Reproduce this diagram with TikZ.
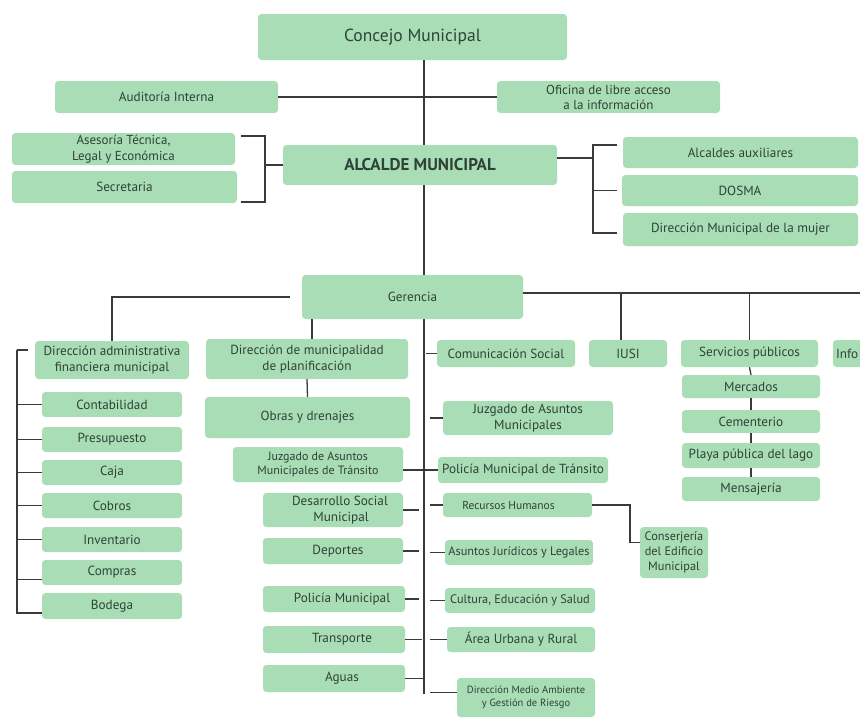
\documentclass[tikz,border=0pt]{standalone}
\usepackage{fontspec}
\setmainfont{PT Sans}
\definecolor{boxg}{HTML}{A8DDB6}
\definecolor{txtc}{HTML}{2F4236}
\definecolor{lnc}{HTML}{3A3A3A}
\newcommand\obox[7][]{\node[box,minimum width={#5pt-#3pt},minimum height={#6pt-#4pt},#1] (#2) at ({(#3+#5)/2},{(#4+#6)/2}) {#7};}
\begin{document}
\begin{tikzpicture}[x=1pt,y=-1pt,
  box/.style={fill=boxg, rounded corners=3.5pt, inner sep=0pt, align=center, text=txtc, font=\fontsize{13.2}{15.5}\selectfont},
  ln/.style={draw=lnc, line width=1.3pt}]
\useasboundingbox (0,0) rectangle (860,720);
% ---------- boxes ----------
\obox[font=\fontsize{17.5}{20}\selectfont]{concejo}{258}{14}{567}{60}{Concejo Municipal}
\obox{audit}{55}{81}{278}{113}{Auditoría Interna}
\obox[font=\fontsize{13}{15}\selectfont]{ofic}{497}{81}{720}{113}{Oficina de libre acceso\\a la información}
\obox[font=\fontsize{13}{16}\selectfont]{ases}{12}{133}{235}{165}{Asesoría Técnica,\\Legal y Económica}
\obox{secr}{12}{171}{237}{203}{Secretaria}
\obox[font=\bfseries\fontsize{17}{19}\selectfont]{alc}{283}{145}{557}{185}{ALCALDE MUNICIPAL}
\obox{alcaux}{623}{137}{858}{168}{Alcaldes auxiliares}
\obox{dosma}{622}{175}{858}{206}{DOSMA}
\obox{mujer}{623}{213}{858}{246}{Dirección Municipal de la mujer}
\obox{ger}{302}{275}{523}{319}{Gerencia}
% left column
\obox{diradm}{35}{341}{189}{379}{Dirección administrativa\\financiera municipal}
\obox{conta}{42}{392}{182}{417}{Contabilidad}
\obox{presu}{42}{427}{182}{452}{Presupuesto}
\obox{caja}{42}{460}{182}{485}{Caja}
\obox{cobros}{42}{493}{182}{518}{Cobros}
\obox{inven}{42}{527}{182}{552}{Inventario}
\obox{compras}{42}{560}{182}{585}{Compras}
\obox{bodega}{42}{593}{182}{619}{Bodega}
% middle-left column
\obox{dirplan}{206}{339}{408}{379}{Dirección de municipalidad\\de planificación}
\obox{obras}{205}{397}{410}{438}{Obras y drenajes}
\obox[font=\fontsize{12}{14.5}\selectfont]{juztr}{233}{447}{403}{482}{Juzgado de Asuntos\\Municipales de Tránsito}
\obox{desa}{263}{493}{403}{527}{\hspace*{14pt}Desarrollo Social\\\hspace*{16pt}Municipal}
\obox{depo}{263}{538}{403}{564}{\hspace*{10pt}Deportes}
\obox{polm}{263}{586}{405}{612}{\hspace*{16pt}Policía Municipal}
\obox{transp}{263}{626}{405}{653}{\hspace*{16pt}Transporte}
\obox{aguas}{263}{665}{405}{692}{\hspace*{16pt}Aguas}
% right of trunk
\obox{comun}{437}{340}{575}{367}{Comunicación Social}
\obox{juzm}{443}{401}{613}{435}{Juzgado de Asuntos\\Municipales}
\obox{poltr}{438}{457}{608}{483}{Policía Municipal de Tránsito}
\obox[font=\fontsize{11.5}{13}\selectfont]{rrhh}{443}{493}{592}{517}{Recursos Humanos\hspace*{18pt}}
\obox[font=\fontsize{12.3}{14}\selectfont]{juri}{445}{540}{593}{565}{Asuntos Jurídicos y Legales}
\obox[font=\fontsize{12.3}{14}\selectfont]{cult}{445}{588}{595}{613}{Cultura, Educación y Salud}
\obox{area}{447}{627}{595}{652}{Área Urbana y Rural}
\obox[font=\fontsize{10.5}{12.5}\selectfont]{medio}{457}{678}{595}{717}{Dirección Medio Ambiente\\y Gestión de Riesgo}
\obox[font=\fontsize{12.3}{15}\selectfont]{cons}{640}{527}{708}{578}{Conserjería\\del Edificio\\Municipal}
% far right
\obox{iusi}{589}{340}{667}{367}{IUSI}
\obox{serv}{681}{340}{818}{367}{Servicios públicos}
\obox{merc}{682}{375}{820}{398}{Mercados}
\obox{cemen}{682}{410}{820}{433}{Cementerio}
\obox{playa}{682}{443}{820}{468}{Playa pública del lago}
\obox{mensa}{682}{477}{820}{501}{Mensajería}
\begin{scope}
\clip (0,0) rectangle (860,720);
\node[box, minimum height=27pt, text width=28pt, inner xsep=3pt, align=left] (info) at (850,353.5) {Info};
\end{scope}
% ---------- coordinates ----------
\coordinate (vx) at (424,0);
\coordinate (trunkend) at (424,694);
\coordinate (lb) at (265,0);
\coordinate (lbt) at (241,136);
\coordinate (lbb) at (241,202);
\coordinate (rb) at (593,0);
\coordinate (rbt) at (617,145);
\coordinate (rbb) at (617,233);
\coordinate (redge) at (860,293);
\coordinate (lc) at (17,0);
\coordinate (rc) at (630,0);
% ---------- connectors ----------
\draw[ln] (concejo.south -| vx) -- (alc.north -| vx);
\draw[ln] (alc.south -| vx) -- (ger.north -| vx);
\draw[ln] (audit.east) -- (ofic.west);
% left bracket
\draw[ln] (lbt) -- (lbt -| lb) -- (lbb -| lb) -- (lbb);
\draw[ln] (alc.west) -- (alc.west -| lb);
% right bracket
\draw[ln] ([yshift=7pt]alc.east) -- ([yshift=7pt]alc.east -| rb);
\draw[ln] (rbt) -- (rbt -| rb) -- (rbb -| rb) -- (rbb);
\draw[ln, shorten >=5pt] (dosma.west -| rb) -- (dosma.west);
% gerencia
\draw[ln, shorten <=12pt] (ger.west) -| (diradm.north);
\draw[ln] ([yshift=4pt]ger.east) -- (redge);
\draw[ln] ([xshift=-7pt]iusi.north |- redge) -- ([xshift=-7pt]iusi.north);
\draw[ln] (serv.north |- redge) -- (serv.north);
\draw[ln] ([xshift=5pt]dirplan.north |- ger.south) -- ([xshift=5pt]dirplan.north);
\draw[ln] (dirplan.south) -- (obras.north);
\draw[ln] (ger.south -| vx) -- (trunkend);
% left column bracket
\draw[ln, shorten >=7pt] ([yshift=10pt]diradm.west -| lc) -- ([yshift=10pt]diradm.west);
\draw[ln] ([yshift=10pt]diradm.west -| lc) -- ([yshift=-7pt]bodega.west -| lc) -- ([yshift=-7pt]bodega.west);
\draw[ln] (conta.west -| lc) -- (conta.west);
\draw[ln] (presu.west -| lc) -- (presu.west);
\draw[ln] (caja.west -| lc) -- (caja.west);
\draw[ln] (cobros.west -| lc) -- (cobros.west);
\draw[ln] (inven.west -| lc) -- (inven.west);
\draw[ln] ([yshift=-7pt]compras.west -| lc) -- ([yshift=-7pt]compras.west);
% trunk ticks, left side
\draw[ln] (juztr.east |- poltr.west) -- (poltr.west);
\draw[ln, shorten >=5pt] (desa.east) -- (desa.east -| vx);
\draw[ln, shorten >=5pt] (depo.east) -- (depo.east -| vx);
\draw[ln, shorten >=5pt] (polm.east) -- (polm.east -| vx);
\draw[ln, shorten >=2pt] (transp.east) -- (transp.east -| vx);
\draw[ln] (aguas.east) -- (aguas.east -| vx);
% trunk ticks, right side
\draw[ln, shorten <=2pt] (comun.west -| vx) -- (comun.west);
\draw[ln, shorten <=6pt] (juzm.west -| vx) -- (juzm.west);
\draw[ln, shorten <=6pt] (rrhh.west -| vx) -- (rrhh.west);
\draw[ln, shorten <=6pt] (juri.west -| vx) -- (juri.west);
\draw[ln, shorten <=6pt] (cult.west -| vx) -- (cult.west);
\draw[ln, shorten <=6pt] (area.west -| vx) -- (area.west);
\draw[ln, shorten <=6pt] ([yshift=5pt]medio.west -| vx) -- ([yshift=5pt]medio.west);
% recursos humanos -> conserjeria
\draw[ln] (rrhh.east) -- (rrhh.east -| rc) -- ([yshift=10pt]cons.west -| rc) -- ([yshift=10pt]cons.west);
% servicios chain
\draw[ln] (serv.south) -- (merc.north);
\draw[ln] (merc.south) -- (cemen.north);
\draw[ln] (cemen.south) -- (playa.north);
\draw[ln] (playa.south) -- (mensa.north);
\end{tikzpicture}
\end{document}
